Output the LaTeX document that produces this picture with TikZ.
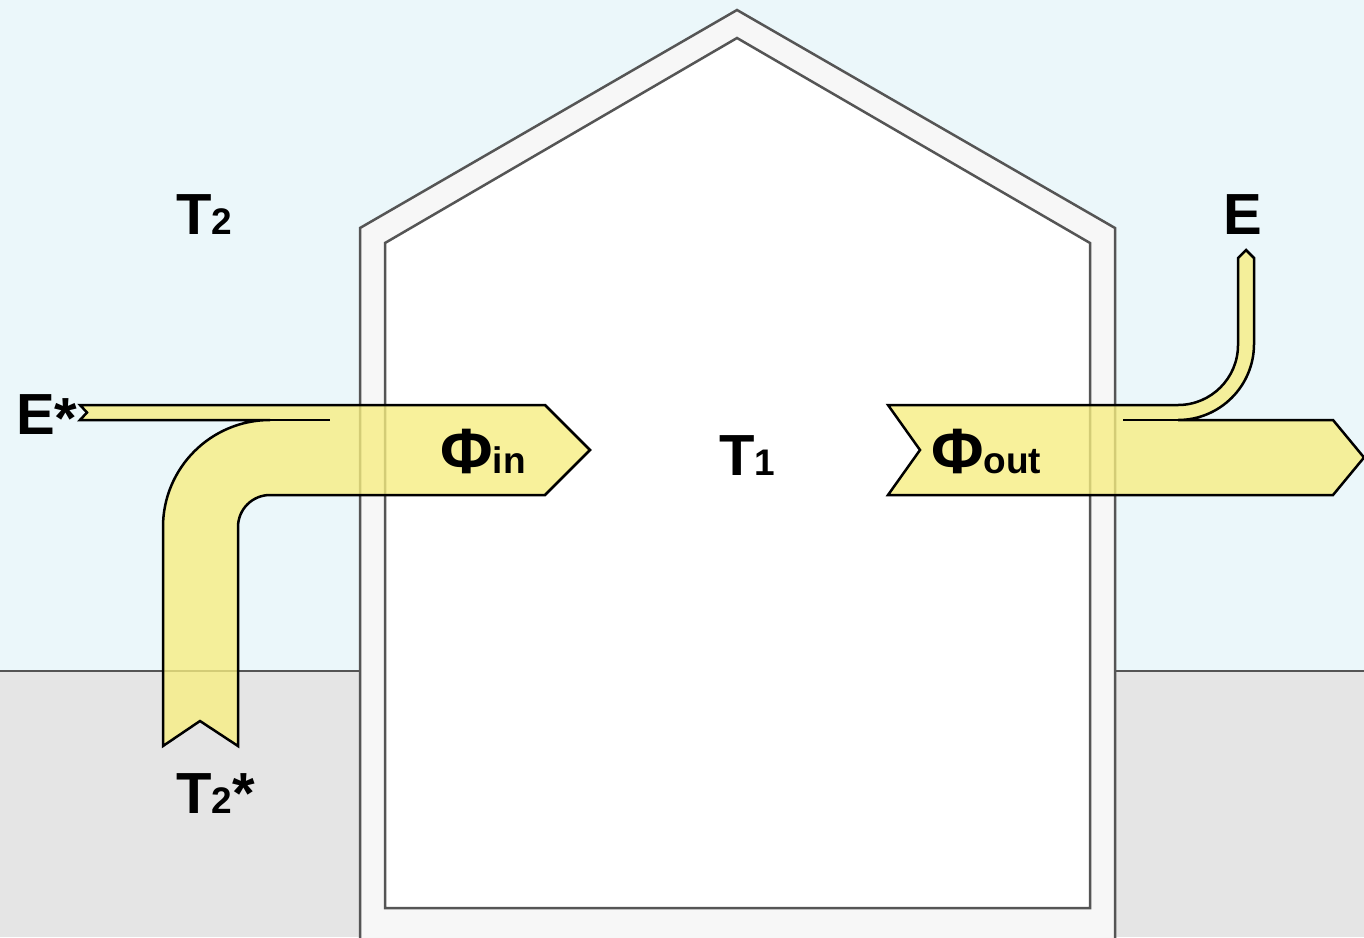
\documentclass[tikz,border=0pt]{standalone}
\usepackage{fontspec}
\setmainfont{Liberation Sans}
\definecolor{sky}{RGB}{235,247,250}
\definecolor{ground}{RGB}{229,229,229}
\definecolor{wall}{RGB}{247,247,247}
\definecolor{edge}{RGB}{85,85,85}
\definecolor{flow}{RGB}{247,238,128}
\newcommand{\mainsz}{\fontsize{58}{60}\selectfont}
\newcommand{\subsz}{\fontsize{37}{40}\selectfont}
\newcommand{\phisz}{\fontsize{64}{66}\selectfont}
\tikzset{
  flowshape/.style={fill=flow, fill opacity=0.78, draw=black, line width=2.5pt, line join=miter},
  flowline/.style={draw=black, line width=2.5pt},
  housestroke/.style={draw=edge, line width=2.5pt},
  lbl/.style={anchor=base west, inner sep=0pt, font=\bfseries}
}
\begin{document}
\begin{tikzpicture}[x=1pt,y=-1pt]
\useasboundingbox (0,0) rectangle (1364,937);
\clip (0,0) rectangle (1364,937);
% background
\fill[sky] (0,0) rectangle (1364,671);
\fill[ground] (0,671) rectangle (1364,937);
\draw[housestroke] (0,671) -- (360,671);
\draw[housestroke] (1115,671) -- (1364,671);
% house
\draw[housestroke, fill=wall] (360,960) -- (360,228) -- (737,10) -- (1115,228) -- (1115,960) -- cycle;
\draw[housestroke, fill=white] (385,908) -- (385,243) -- (737,38) -- (1090,243) -- (1090,908) -- cycle;
% flow in
\draw[flowshape] (80,405) -- (545,405) -- (590,450) -- (545,495) -- (270,495)
  .. controls (252.3,495) and (238,509.3) .. (238,527) -- (238,746) -- (200,721) -- (163,746) -- (163,527)
  .. controls (163,467.9) and (210.9,420) .. (270,420) -- (80,420) -- (87,412.5) -- cycle;
\draw[flowline] (270,420) -- (330,420);
% flow out
\draw[flowshape] (888,405) -- (1178,405) .. controls (1211.1,405) and (1238,378.1) .. (1238,345)
  -- (1238,258) -- (1246,250) -- (1254,258) -- (1254,344)
  .. controls (1254,386) and (1220,420) .. (1178,420) -- (1333,420) -- (1364,457.5) -- (1333,495)
  -- (888,495) -- (920,450) -- cycle;
\draw[flowline] (1123,420) -- (1178,420);
% labels
\node[lbl] (t2) at (176,234) {\mainsz T\subsz 2};
\node[lbl] (estar) at (16,434) {\mainsz E\raisebox{-4pt}{*}};
\node[lbl] (t2star) at (176,813) {\mainsz T{\subsz 2}*};
\node[lbl] (t1) at (719,475) {\mainsz T\subsz 1};
\node[lbl] (e) at (1223,234) {\mainsz E};
\node[lbl] (phiin) at (440,473) {\phisz Φ\subsz in};
\node[lbl] (phiout) at (931,473) {\phisz Φ\subsz out};
\end{tikzpicture}
\end{document}
